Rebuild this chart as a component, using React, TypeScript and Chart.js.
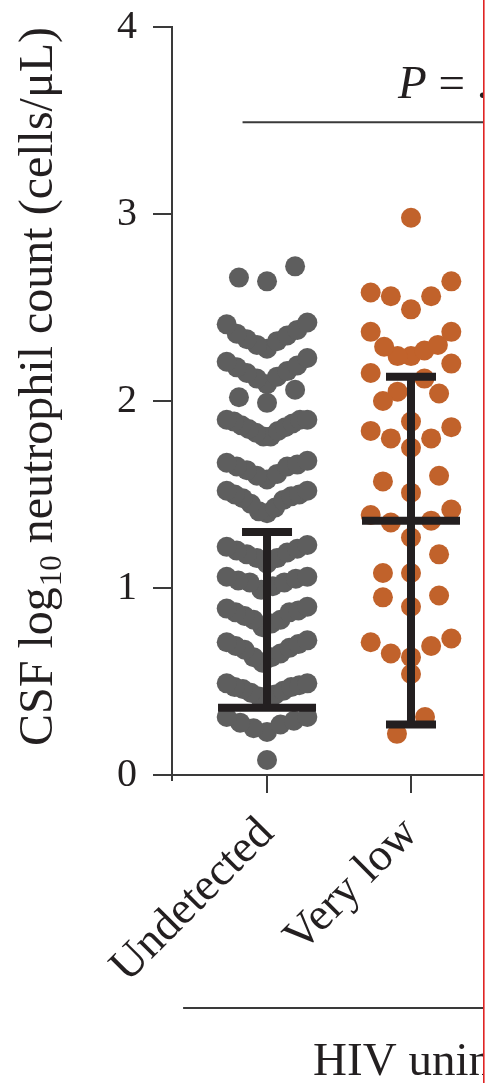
import React, { useEffect, useRef } from "react";
import { Chart, registerables } from "chart.js";

Chart.register(...registerables);

// ---------- data ----------
const categories = ["Undetected", "Very low"];

const undetectedValues = [
  2.72, 2.66, 2.64,
  2.42, 2.41, 2.38, 2.36, 2.35, 2.33, 2.32, 2.3, 2.28,
  2.23, 2.21, 2.19, 2.18, 2.16, 2.15, 2.13, 2.12, 2.09,
  2.06, 2.02, 1.99,
  1.9, 1.9, 1.9, 1.89, 1.88, 1.87, 1.86, 1.85, 1.84, 1.83, 1.81, 1.81,
  1.68, 1.67, 1.66, 1.65, 1.65, 1.63, 1.61, 1.6, 1.58,
  1.52, 1.52, 1.5, 1.5, 1.49, 1.48, 1.47, 1.45, 1.43, 1.41, 1.4,
  1.23, 1.22, 1.21, 1.2, 1.19, 1.18, 1.16, 1.16, 1.13,
  1.06, 1.06, 1.05, 1.04, 1.03, 1.03, 1.01, 0.99,
  0.9, 0.89, 0.88, 0.87, 0.87, 0.85, 0.83, 0.83, 0.81, 0.79,
  0.72, 0.71, 0.7, 0.69, 0.68, 0.67, 0.65, 0.63, 0.63, 0.6,
  0.49, 0.49, 0.48, 0.47, 0.47, 0.46, 0.45, 0.44, 0.43, 0.42, 0.4,
  0.31, 0.31, 0.29, 0.28, 0.27, 0.25, 0.23,
  0.08,
];

const veryLowValues = [
  2.98, 2.64, 2.58, 2.56, 2.56, 2.49, 2.37, 2.37, 2.3, 2.29, 2.27, 2.24, 2.24,
  2.2, 2.15, 2.12, 2.05, 2.04, 2.0, 1.89, 1.86, 1.84, 1.8, 1.8, 1.75, 1.6,
  1.57, 1.51, 1.42, 1.39, 1.36, 1.35, 1.27, 1.18, 1.08, 1.08, 0.96, 0.95, 0.9,
  0.73, 0.71, 0.69, 0.65, 0.63, 0.54, 0.31, 0.22,
];

const medians = [0.36, 1.36];
const lowerQuartiles = [0.36, 0.27];
const upperQuartiles = [1.3, 2.13];

const yTickValues = [0, 1, 2, 3, 4];
const yTitleMain = "CSF log";
const yTitleSub = "10";
const yTitleRest = " neutrophil count (cells/\u03bcL)";
const pLabelItalic = "P";
const pLabelRest = " = .";
const groupLabel = "HIV uninfected";

// ---------- style ----------
const SERIF = "'Liberation Serif', 'Times New Roman', serif";
const INK = "#231f20";
const AXIS = "#3a3a3a";
const GRAY = "#5e5e5e";
const ORANGE = "#c1622b";

// beeswarm (Prism-like rows: lowest value centred, higher values outward)
function swarm(values: number[], center: number) {
  const rowSpan = 0.15;
  const halfW = 0.28;
  const maxStep = 0.195;
  const sorted = [...values].sort((a, b) => b - a);
  const rows: number[][] = [];
  let i = 0;
  while (i < sorted.length) {
    const top = sorted[i];
    const row: number[] = [];
    while (i < sorted.length && sorted[i] >= top - rowSpan - 1e-9) {
      row.push(sorted[i]);
      i++;
    }
    rows.push(row);
  }
  const pts: { x: number; y: number }[] = [];
  for (const row of rows) {
    const asc = [...row].sort((a, b) => a - b);
    const n = asc.length;
    const step = n > 1 ? Math.min(maxStep, (2 * halfW) / (n - 1)) : 0;
    const slots = Array.from({ length: n }, (_, k) => (k - (n - 1) / 2) * step);
    slots.sort((a, b) => Math.abs(a) - Math.abs(b) || a - b);
    asc.forEach((v, k) => pts.push({ x: center + slots[k], y: v }));
  }
  return pts;
}

const annotations = {
  id: "annotations",
  afterDatasetsDraw(chart: any) {
    const { ctx, scales } = chart;
    const xs = scales.x;
    const ys = scales.y;
    ctx.save();
    ctx.strokeStyle = INK;
    ctx.lineWidth = 8;
    ctx.lineCap = "butt";
    categories.forEach((_, i) => {
      const cx = xs.getPixelForValue(i + 1);
      const yMed = ys.getPixelForValue(medians[i]);
      const yLo = ys.getPixelForValue(lowerQuartiles[i]);
      const yHi = ys.getPixelForValue(upperQuartiles[i]);
      ctx.beginPath();
      ctx.moveTo(cx, yHi - 4);
      ctx.lineTo(cx, yLo + 4);
      ctx.moveTo(cx - 25, yHi);
      ctx.lineTo(cx + 25, yHi);
      ctx.moveTo(cx - 25, yLo);
      ctx.lineTo(cx + 25, yLo);
      ctx.moveTo(cx - 49, yMed);
      ctx.lineTo(cx + 49, yMed);
      ctx.stroke();
    });
    ctx.restore();
  },
  afterDraw(chart: any) {
    const { ctx, scales, chartArea } = chart;
    const xs = scales.x;
    const ys = scales.y;
    const H = chart.height;
    ctx.save();

    // y axis title with subscript
    ctx.save();
    ctx.translate(52, 746);
    ctx.rotate(-Math.PI / 2);
    ctx.fillStyle = INK;
    ctx.textBaseline = "alphabetic";
    ctx.textAlign = "left";
    ctx.font = `48px ${SERIF}`;
    let x = 0;
    ctx.fillText(yTitleMain, x, 0);
    x += ctx.measureText(yTitleMain).width;
    ctx.font = `31px ${SERIF}`;
    ctx.fillText(yTitleSub, x + 1, 9);
    x += ctx.measureText(yTitleSub).width + 1;
    ctx.font = `48px ${SERIF}`;
    ctx.fillText(yTitleRest, x, 0);
    ctx.restore();

    // y axis line slightly below zero
    ctx.strokeStyle = AXIS;
    ctx.lineWidth = 2;
    ctx.beginPath();
    ctx.moveTo(chartArea.left, chartArea.bottom);
    ctx.lineTo(chartArea.left, chartArea.bottom + 6);
    ctx.stroke();

    // clip at the crop edge
    ctx.beginPath();
    ctx.rect(0, 0, 483, H);
    ctx.clip();

    // P value bracket
    const pY = ys.getPixelForValue(3.49);
    ctx.strokeStyle = AXIS;
    ctx.lineWidth = 2;
    ctx.beginPath();
    ctx.moveTo(xs.getPixelForValue(0.83), pY);
    ctx.lineTo(chart.width, pY);
    ctx.stroke();
    ctx.fillStyle = INK;
    ctx.textBaseline = "alphabetic";
    ctx.textAlign = "left";
    const pX = xs.getPixelForValue(1.91);
    const pBase = ys.getPixelForValue(3.62);
    ctx.font = `italic 47px ${SERIF}`;
    ctx.fillText(pLabelItalic, pX, pBase);
    const pw = ctx.measureText(pLabelItalic).width;
    ctx.font = `47px ${SERIF}`;
    ctx.fillText(pLabelRest, pX + pw, pBase);

    // group bracket
    ctx.beginPath();
    ctx.moveTo(xs.getPixelForValue(0.417), 1008);
    ctx.lineTo(chart.width, 1008);
    ctx.stroke();
    ctx.font = `47px ${SERIF}`;
    ctx.fillText(groupLabel, xs.getPixelForValue(1.32), 1075);
    ctx.restore();

    // red crop marker
    ctx.save();
    ctx.fillStyle = "#ffffff";
    ctx.fillRect(483, 0, 2, H);
    ctx.fillStyle = "#e02424";
    ctx.fillRect(483, 0, 1.6, H);
    ctx.restore();
  },
};

export default function App() {
  const ref = useRef<HTMLCanvasElement | null>(null);
  useEffect(() => {
    document.body.style.margin = "0";
    const canvas = ref.current;
    if (!canvas) return;
    const chart = new Chart(canvas, {
      type: "scatter",
      data: {
        datasets: [
          {
            data: swarm(undetectedValues, 1),
            backgroundColor: GRAY,
            borderWidth: 0,
            pointRadius: 10,
            pointHoverRadius: 10,
          },
          {
            data: swarm(veryLowValues, 2),
            backgroundColor: ORANGE,
            borderWidth: 0,
            pointRadius: 10,
            pointHoverRadius: 10,
          },
        ],
      },
      options: {
        animation: false,
        responsive: false,
        maintainAspectRatio: false,
        layout: { autoPadding: false, padding: { top: 27, left: 0, right: 0, bottom: 0 } },
        plugins: { legend: { display: false }, tooltip: { enabled: false } },
        scales: {
          x: {
            type: "linear",
            min: 0.34,
            max: 2.514,
            afterBuildTicks: (s: any) => {
              s.ticks = categories.map((_, i) => ({ value: i + 1 }));
            },
            afterFit: (s: any) => {
              s.height = 308;
              s.paddingLeft = 0;
              s.paddingRight = 0;
            },
            ticks: {
              callback: (v: any) => categories[Math.round(Number(v)) - 1] ?? "",
              font: { family: SERIF, size: 46 },
              color: INK,
              minRotation: 45,
              maxRotation: 45,
              padding: 14,
            },
            grid: {
              drawOnChartArea: false,
              drawTicks: true,
              tickLength: 18,
              color: AXIS,
              lineWidth: 2,
            },
            border: { display: true, color: AXIS, width: 2 },
          },
          y: {
            min: 0,
            max: 4,
            afterBuildTicks: (s: any) => {
              s.ticks = yTickValues.map((v) => ({ value: v }));
            },
            afterFit: (s: any) => {
              s.width = 172;
              s.paddingTop = 0;
              s.paddingBottom = 0;
            },
            ticks: {
              font: { family: SERIF, size: 40 },
              color: INK,
              padding: 16,
            },
            grid: {
              drawOnChartArea: false,
              drawTicks: true,
              tickLength: 19,
              color: AXIS,
              lineWidth: 2,
            },
            border: { display: true, color: AXIS, width: 2 },
          },
        },
      },
      plugins: [annotations],
    });
    return () => chart.destroy();
  }, []);
  return (
    <div style={{ width: 485, height: 1083, overflow: "hidden", background: "#fff" }}>
      <canvas ref={ref} width={485} height={1083} style={{ display: "block", width: 485, height: 1083 }} />
    </div>
  );
}
